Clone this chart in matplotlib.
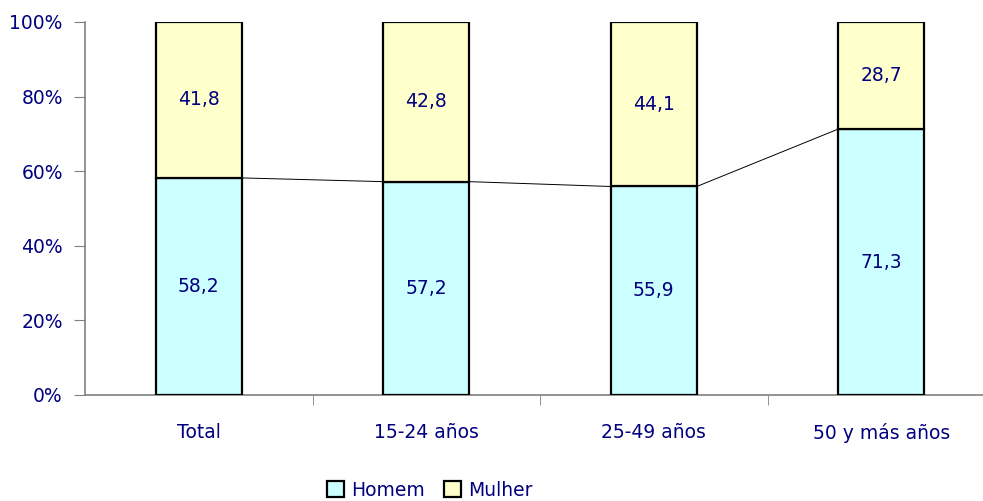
import numpy as np
import matplotlib.pyplot as plt
from matplotlib.patches import Patch

categories = ['Total', '15-24 años', '25-49 años', '50 y más años']
homem = [58.2, 57.2, 55.9, 71.3]
mulher = [41.8, 42.8, 44.1, 28.7]
yticks = [0, 20, 40, 60, 80, 100]

navy = '#000080'
c_homem = '#CCFFFF'
c_mulher = '#FFFFCC'

fig = plt.figure(figsize=(9.83, 5.01), dpi=100)
ax = fig.add_axes([85 / 983, 1 - 395 / 501, (995 - 85) / 983, (395 - 22) / 501])

x = np.arange(len(categories))
w = 0.378
ax.bar(x, homem, w, color=c_homem, edgecolor='black', linewidth=1.6, zorder=3)
ax.bar(x, mulher, w, bottom=homem, color=c_mulher, edgecolor='black', linewidth=1.6, zorder=3)

# series lines between the tops of the Homem bars
for i in range(len(x) - 1):
    ax.plot([x[i] + w / 2, x[i + 1] - w / 2], [homem[i], homem[i + 1]],
            color='black', linewidth=0.7, zorder=2)

for i in range(len(x)):
    ax.text(x[i], homem[i] / 2, f'{homem[i]:.1f}'.replace('.', ','),
            ha='center', va='center', color=navy, fontsize=13.5, zorder=4)
    ax.text(x[i], homem[i] + mulher[i] / 2, f'{mulher[i]:.1f}'.replace('.', ','),
            ha='center', va='center', color=navy, fontsize=13.5, zorder=4)

ax.set_xlim(-0.5, len(x) - 0.5)
ax.set_ylim(0, 100)
ax.set_yticks(yticks)
ax.set_yticklabels([f'{v}%' for v in yticks], color=navy, fontsize=13.5)
ax.set_xticks(x)
ax.set_xticklabels(categories, color=navy, fontsize=13.5)
ax.tick_params(axis='x', length=0, pad=20)
ax.set_xticks(np.arange(len(x) - 1) + 0.5, minor=True)
ax.tick_params(axis='x', which='minor', length=7, color='#808080', direction='out')
ax.tick_params(axis='y', length=8, color='#808080', pad=8)

for s in ['top', 'right']:
    ax.spines[s].set_visible(False)
for s in ['left', 'bottom']:
    ax.spines[s].set_color('#808080')
    ax.spines[s].set_linewidth(1.2)

handles = [Patch(facecolor=c_homem, edgecolor='black', linewidth=1.6, label='Homem'),
           Patch(facecolor=c_mulher, edgecolor='black', linewidth=1.6, label='Mulher')]
leg = fig.legend(handles=handles, loc='center', bbox_to_anchor=(430 / 983, 1 - 490 / 501),
                 ncol=2, frameon=False, fontsize=13.5, handlelength=0.9, handleheight=0.9,
                 handletextpad=0.4, columnspacing=1.0)
for t in leg.get_texts():
    t.set_color(navy)

fig.savefig('out.png', dpi=100)
